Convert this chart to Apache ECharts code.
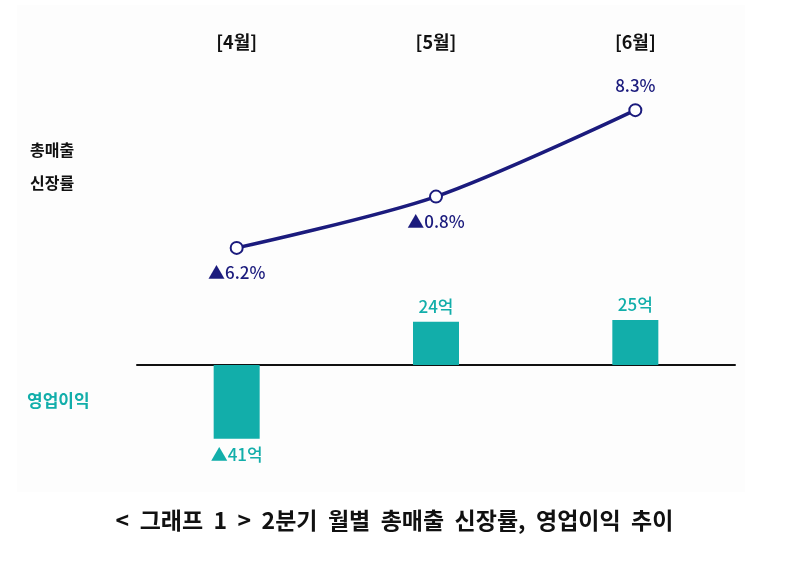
<!DOCTYPE html>
<html>
<head>
<meta charset="utf-8">
<script src="https://cdn.jsdelivr.net/npm/echarts@6/dist/echarts.min.js"></script>
<style>
  html, body { margin: 0; padding: 0; background: #fff; }
  #chart { width: 789px; height: 576px; }
</style>
</head>
<body>
<div id="chart"></div>
<script>
var months = ['4월', '5월', '6월'];
var salesGrowth = [-6.2, -0.8, 8.3];     // 총매출 신장률 (%)
var operatingProfit = [-41, 24, 25];     // 영업이익 (억)

var navy = '#1b1b7d';
var teal = '#12aeaa';
var font = '"Noto Sans CJK KR", "Noto Sans", sans-serif';

// ▲ 표시는 마이너스
function growthText(v) {
    return (v < 0 ? '▲' + Math.abs(v).toFixed(1) : v.toFixed(1)) + '%';
}
function profitText(v) {
    return (v < 0 ? '▲' + Math.abs(v) : v) + '억';
}

var lineData = salesGrowth.map(function (v) {
    return {
        value: v,
        label: { position: v < 0 ? 'bottom' : 'top' }
    };
});
var barData = operatingProfit.map(function (v) {
    return {
        value: v,
        label: { position: v < 0 ? 'bottom' : 'top' }
    };
});

var myChart = echarts.init(document.getElementById('chart'));
var option = {
    backgroundColor: '#fff',
    animation: false,
    textStyle: { fontFamily: font },
    title: {
        text: '<  그래프  1  >  2분기  월별  총매출  신장률,  영업이익  추이',
        left: 'center',
        top: 504,
        textStyle: { fontFamily: font, fontSize: 23, fontWeight: 'bold', color: '#111' }
    },
    graphic: [
        {
            type: 'rect', z: -10, silent: true,
            shape: { x: 17, y: 5, width: 728, height: 487 },
            style: { fill: '#fdfdfd' }
        },
        {
            type: 'text', left: 30, top: 133,
            style: {
                text: '총매출\n신장률', fill: '#111', font: 'bold 16px ' + font,
                lineHeight: 33
            }
        },
        {
            type: 'text', left: 27, top: 392,
            style: { text: '영업이익', fill: teal, font: 'bold 17px ' + font }
        }
    ],
    grid: [
        { left: 137, width: 598, top: 94, height: 190 },
        { left: 137, width: 598, top: 275, height: 180 }
    ],
    xAxis: [
        {
            gridIndex: 0, type: 'category', data: months, position: 'top',
            axisLine: { show: false }, axisTick: { show: false }, splitLine: { show: false },
            axisLabel: {
                margin: 43, formatter: '[{value}]',
                fontFamily: font, fontSize: 18, fontWeight: 'bold', color: '#111'
            }
        },
        {
            gridIndex: 1, type: 'category', data: months,
            axisLine: { onZero: true, lineStyle: { color: '#111', width: 2 } },
            axisTick: { show: false }, axisLabel: { show: false }, splitLine: { show: false }
        }
    ],
    yAxis: [
        { gridIndex: 0, type: 'value', min: -10, max: 10, show: false, splitLine: { show: false } },
        { gridIndex: 1, type: 'value', min: -50, max: 50, show: false, splitLine: { show: false } }
    ],
    series: [
        {
            name: '총매출 신장률',
            type: 'line',
            xAxisIndex: 0, yAxisIndex: 0,
            data: lineData,
            smooth: 0.3,
            symbol: 'emptyCircle',
            symbolSize: 12,
            lineStyle: { color: navy, width: 3.5 },
            itemStyle: { color: navy, borderColor: navy, borderWidth: 2.5 },
            label: {
                show: true, distance: 9,
                color: navy, fontSize: 17, fontWeight: 500, fontFamily: font,
                formatter: function (p) { return growthText(p.value); }
            }
        },
        {
            name: '영업이익',
            type: 'bar',
            xAxisIndex: 1, yAxisIndex: 1,
            data: barData,
            barWidth: 46,
            itemStyle: { color: teal },
            label: {
                show: true, distance: 7,
                color: teal, fontSize: 17, fontWeight: 500, fontFamily: font,
                formatter: function (p) { return profitText(p.value); }
            }
        }
    ]
};
myChart.setOption(option);
</script>
</body>
</html>
